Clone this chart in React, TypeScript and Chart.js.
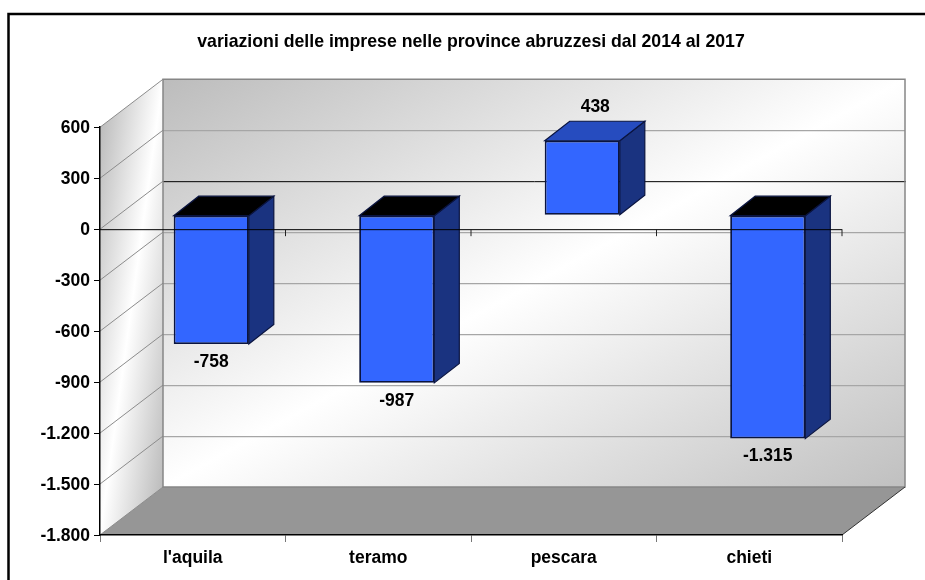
import React, { useEffect, useRef } from "react";
import { Chart, registerables } from "chart.js";

Chart.register(...registerables);

const titleText = "variazioni delle imprese nelle province abruzzesi dal 2014 al 2017";
const categories = ["l'aquila", "teramo", "pescara", "chieti"];
const values = [-758, -987, 438, -1315];

const FONT = '"Liberation Sans", Arial, sans-serif';
const WALL_DX = 63;
const WALL_DY = 48;
const BAR_DX = 18.5;
const BAR_DY = 14;
const CAP_DX = 25;
const CAP_DY = 19.5;

const fmt = (v: number) => {
  const s = String(Math.abs(v)).replace(/\B(?=(\d{3})+$)/g, ".");
  return (v < 0 ? "-" : "") + s;
};

function cornerGradient(ctx: CanvasRenderingContext2D, x0: number, y0: number, x1: number, y1: number, stops: [number, string][]) {
  const w = x1 - x0;
  const h = y1 - y0;
  const cx = (x0 + x1) / 2;
  const cy = (y0 + y1) / 2;
  const t = (w * h) / (h * h + w * w);
  const g = ctx.createLinearGradient(cx - t * h, cy - t * w, cx + t * h, cy + t * w);
  stops.forEach(([p, c]) => g.addColorStop(p, c));
  return g;
}

function poly(ctx: CanvasRenderingContext2D, pts: number[][], fill?: any, stroke?: string, lw = 1) {
  ctx.beginPath();
  pts.forEach(([x, y], i) => (i ? ctx.lineTo(x, y) : ctx.moveTo(x, y)));
  ctx.closePath();
  if (fill) {
    ctx.fillStyle = fill;
    ctx.fill();
  }
  if (stroke) {
    ctx.strokeStyle = stroke;
    ctx.lineWidth = lw;
    ctx.stroke();
  }
}

function segment(ctx: CanvasRenderingContext2D, a: number[], b: number[], color: string, lw: number) {
  ctx.beginPath();
  ctx.moveTo(a[0], a[1]);
  ctx.lineTo(b[0], b[1]);
  ctx.strokeStyle = color;
  ctx.lineWidth = lw;
  ctx.stroke();
}

const scene3d = {
  id: "scene3d",
  beforeDraw(chart: any) {
    const { ctx, chartArea: a, scales } = chart;
    const { left: l, right: r, top: t, bottom: b } = a;
    const y = scales.y;
    ctx.save();
    ctx.fillStyle = "#fff";
    ctx.fillRect(0, 0, chart.width, chart.height);
    ctx.strokeStyle = "#000";
    ctx.lineWidth = 2.5;
    ctx.strokeRect(8.5, 14, 1200, 1200);

    const bl = l + WALL_DX;
    const br = r + WALL_DX;
    const bt = t - WALL_DY;
    const bb = b - WALL_DY;
    poly(
      ctx,
      [[l, t], [bl, bt], [bl, bb], [l, b]],
      cornerGradient(ctx, l, bt, bl, b, [[0, "#b4b4b4"], [0.5, "#ffffff"], [1, "#b4b4b4"]])
    );
    poly(
      ctx,
      [[bl, bt], [br, bt], [br, bb], [bl, bb]],
      cornerGradient(ctx, bl, bt, br, bb, [[0, "#bcbcbc"], [0.5, "#ffffff"], [1, "#c0c0c0"]])
    );
    poly(ctx, [[l, b], [bl, bb], [br, bb], [r, b]], "#969696");

    (y.ticks as any[]).forEach((tk) => {
      const py = y.getPixelForValue(tk.value);
      segment(ctx, [l, py], [bl, py - WALL_DY], "#8c8c8c", 1);
      if (tk.value === 0) segment(ctx, [bl, py - WALL_DY + 0.5], [br + 1, py - WALL_DY + 0.5], "#000", 1);
      else if (py > t && py < b) segment(ctx, [bl, py - WALL_DY + 0.5], [br, py - WALL_DY + 0.5], "#a6a6a6", 1.2);
    });
    poly(ctx, [[bl, bt], [br, bt], [br, bb], [bl, bb]], null, "#868686", 1.5);
    segment(ctx, [r, b], [br, bb], "#333", 1);
    ctx.restore();
  },
  beforeDatasetsDraw(chart: any) {
    const { ctx } = chart;
    ctx.save();
    ctx.translate(BAR_DX, -BAR_DY);
    chart.getDatasetMeta(0).data.forEach((el: any, i: number) => {
      const hw = el.width / 2;
      const x0 = el.x - hw;
      const x1 = el.x + hw;
      const top = Math.min(el.y, el.base);
      const bot = Math.max(el.y, el.base);
      poly(ctx, [[x1, top], [x1 + CAP_DX, top - CAP_DY], [x1 + CAP_DX, bot - CAP_DY], [x1, bot]], "#1a3380", "#0a1440", 1.2);
      poly(ctx, [[x0, top], [x0 + CAP_DX, top - CAP_DY], [x1 + CAP_DX, top - CAP_DY], [x1, top]], values[i] < 0 ? "#000" : "#264cbf", "#0a1440", 1.2);
    });
  },
  afterDatasetsDraw(chart: any) {
    const { ctx, chartArea: a, scales } = chart;
    ctx.restore();
    ctx.save();
    const zy = scales.y.getPixelForValue(0);
    segment(ctx, [a.left, zy + 0.5], [a.right, zy + 0.5], "#000", 1);
    const step = (a.right - a.left) / categories.length;
    categories.forEach((_, i) => {
      const tx = a.left + step * (i + 1);
      segment(ctx, [tx, zy], [tx, zy + 7], "#222", 1);
    });
    ctx.font = `bold 17.5px ${FONT}`;
    ctx.fillStyle = "#000";
    ctx.textAlign = "center";
    ctx.textBaseline = "middle";
    chart.getDatasetMeta(0).data.forEach((el: any, i: number) => {
      const v = values[i];
      const top = Math.min(el.y, el.base) - BAR_DY;
      const bot = Math.max(el.y, el.base) - BAR_DY;
      const fx = el.x + BAR_DX;
      if (v < 0) ctx.fillText(fmt(v), fx, bot + 18);
      else ctx.fillText(fmt(v), fx + 13, top - 34);
    });
    ctx.restore();
  },
};

export default function App() {
  const ref = useRef<HTMLCanvasElement>(null);
  useEffect(() => {
    const chart = new Chart(ref.current as HTMLCanvasElement, {
      type: "bar",
      data: {
        labels: categories,
        datasets: [
          {
            data: values,
            backgroundColor: "#3366ff",
            borderColor: "#0a1440",
            borderWidth: 1.8,
            borderSkipped: false,
            barPercentage: 0.405,
            categoryPercentage: 1,
          },
        ],
      },
      options: {
        responsive: false,
        animation: false,
        layout: { padding: { left: 0, right: 83, top: 31, bottom: 0 } },
        plugins: {
          legend: { display: false },
          tooltip: { enabled: false },
          title: {
            display: true,
            text: titleText,
            fullSize: false,
            color: "#000",
            font: { family: FONT, size: 17.7, weight: "bold" },
            padding: { top: 0, bottom: 75 },
          },
        },
        scales: {
          x: {
            afterFit: (s: any) => {
              s.height = 45;
            },
            border: { color: "#000", width: 1.5 },
            grid: { drawOnChartArea: false, tickLength: 7, tickColor: "#777" },
            ticks: { color: "#000", padding: 6, font: { family: FONT, size: 17.5, weight: "bold" } },
          },
          y: {
            min: -1800,
            max: 600,
            afterFit: (s: any) => {
              s.width = 100;
            },
            border: { color: "#000", width: 1.5 },
            grid: { drawOnChartArea: false, tickLength: 6, tickColor: "#000" },
            ticks: {
              stepSize: 300,
              color: "#000",
              padding: 4,
              labelOffset: 1,
              font: { family: FONT, size: 17.5, weight: "bold" },
              callback: (v: any) => fmt(Number(v)),
            },
          },
        },
      },
      plugins: [scene3d],
    } as any);
    return () => chart.destroy();
  }, []);
  return <canvas ref={ref} width={925} height={580} style={{ position: "absolute", left: 0, top: 0, width: 925, height: 580 }} />;
}
